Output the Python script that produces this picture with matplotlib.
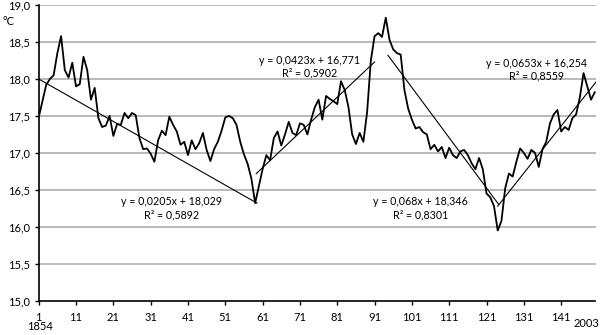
"""Temperature series 1854-2003 with piecewise linear trends."""

import matplotlib
matplotlib.use('Agg')
import matplotlib.pyplot as plt

plt.rcParams['font.family'] = ['Lato', 'DejaVu Sans']

# yearly index 1..150 (1854..2003)
temps = [
  17.48, 17.70, 17.92, 18.00, 18.05, 18.35, 18.58, 18.12, 18.02, 18.22,
  17.90, 17.93, 18.30, 18.12, 17.72, 17.88, 17.47, 17.35, 17.37, 17.50,
  17.23, 17.39, 17.38, 17.54, 17.47, 17.54, 17.51, 17.20, 17.05, 17.06,
  16.99, 16.88, 17.17, 17.30, 17.24, 17.49, 17.38, 17.29, 17.11, 17.15,
  16.97, 17.17, 17.05, 17.13, 17.27, 17.04, 16.89, 17.05, 17.15, 17.30,
  17.48, 17.50, 17.47, 17.38, 17.15, 16.98, 16.85, 16.65, 16.32, 16.55,
  16.78, 16.97, 16.90, 17.20, 17.29, 17.10, 17.25, 17.42, 17.27, 17.24,
  17.40, 17.38, 17.25, 17.45, 17.62, 17.72, 17.45, 17.77, 17.73, 17.70,
  17.66, 17.97, 17.85, 17.62, 17.25, 17.12, 17.27, 17.15, 17.55, 18.25,
  18.58, 18.62, 18.57, 18.83, 18.53, 18.40, 18.35, 18.33, 17.85, 17.60,
  17.45, 17.33, 17.35, 17.28, 17.25, 17.05, 17.11, 17.02, 17.08, 16.93,
  17.07, 16.97, 16.93, 17.02, 17.04, 16.97, 16.86, 16.78, 16.93, 16.78,
  16.45, 16.40, 16.28, 15.95, 16.08, 16.52, 16.72, 16.68, 16.88, 17.06,
  17.00, 16.92, 17.04, 17.00, 16.81, 17.05, 17.15, 17.40, 17.52, 17.58,
  17.29, 17.35, 17.31, 17.47, 17.52, 17.75, 18.08, 17.90, 17.72, 17.82,
]
years = list(range(1, len(temps) + 1))

# trend segments as drawn (start index, end index, start value, end value)
trend_x0 = [1, 59.3, 94.6, 124.0]
trend_x1 = [59.5, 91.0, 124.3, 150.5]
trend_y0 = [18.00, 16.72, 18.32, 16.28]
trend_y1 = [16.32, 18.23, 16.30, 17.97]

trend_eq = ['y = 0,0205x + 18,029', 'y = 0,0423x + 16,771',
            'y = 0,068x + 18,346', 'y = 0,0653x + 16,254']
trend_r2 = ['R\u00b2 = 0,5892', 'R\u00b2 = 0,5902',
            'R\u00b2 = 0,8301', 'R\u00b2 = 0,8559']
label_x = [36.5, 73.5, 103.3, 134.4]
label_y = [16.41, 18.33, 16.41, 18.29]

x_ticks = list(range(1, 151, 10))
y_ticks = [15.0, 15.5, 16.0, 16.5, 17.0, 17.5, 18.0, 18.5, 19.0]
y_ticklabels = ['15,0', '15,5', '16,0', '16,5', '17,0', '17,5', '18,0', '18,5', '19,0']


def main():
  fig = plt.figure(figsize=(6.0, 3.35), dpi=100)
  ax = fig.add_axes([0.0645, 0.1024, 0.928, 0.8824])

  for yv in y_ticks[1:]:
    ax.axhline(yv, color='#b4b4b4', lw=1.3, zorder=0)

  ax.plot(years, temps, color='black', lw=1.3, zorder=3)
  for i in range(len(trend_x0)):
    ax.plot([trend_x0[i], trend_x1[i]], [trend_y0[i], trend_y1[i]],
            color='black', lw=0.8, zorder=4)
    ax.text(label_x[i], label_y[i], trend_eq[i] + '\n' + trend_r2[i],
            ha='center', va='top', fontsize=7.7, linespacing=1.2, zorder=5)

  ax.set_xlim(1, 150.2)
  ax.set_ylim(15.0, 19.0)
  ax.set_xticks(x_ticks)
  ax.set_xticklabels([str(t) for t in x_ticks])
  ax.set_yticks(y_ticks)
  ax.set_yticklabels(y_ticklabels)
  ax.tick_params(axis='both', labelsize=8, length=3, width=1, color='black',
                 direction='out')
  ax.tick_params(axis='x', pad=5)
  ax.tick_params(axis='y', pad=3)

  for s in ['top', 'right']:
    ax.spines[s].set_visible(False)
  ax.spines['left'].set_linewidth(1.2)
  ax.spines['bottom'].set_linewidth(1.2)

  fig.text(0.004, 0.935, '\u00b0C', fontsize=8, ha='left', va='center')
  fig.text(0.067, 0.008, '1854', fontsize=8, ha='center', va='bottom')
  fig.text(0.998, 0.018, '2003', fontsize=8, ha='right', va='bottom')

  fig.savefig('out.png', dpi=100)


if __name__ == "__main__":
  main()
